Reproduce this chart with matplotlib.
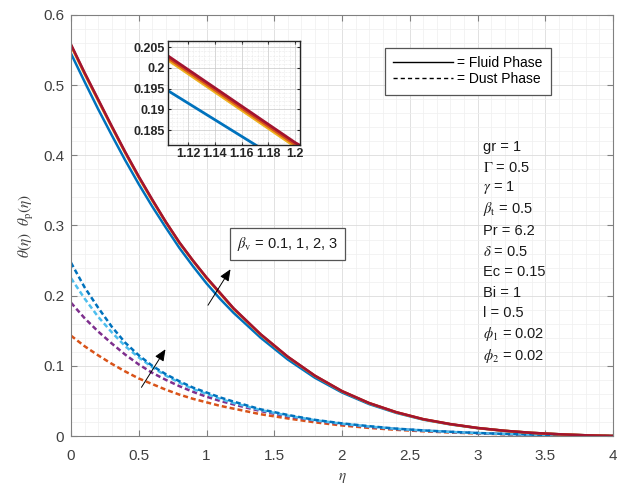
import matplotlib
matplotlib.use("Agg")
import matplotlib.pyplot as plt
from matplotlib.lines import Line2D
from matplotlib.ticker import MultipleLocator

plt.rcParams['font.family'] = ['Liberation Sans', 'DejaVu Sans']
plt.rcParams['mathtext.fontset'] = 'stix'

# ---------------- data ----------------
eta = [0, 0.1, 0.2, 0.3, 0.4, 0.5, 0.6, 0.7, 0.8, 0.9, 1.0, 1.1, 1.2, 1.4, 1.6, 1.8,
       2.0, 2.2, 2.4, 2.6, 2.8, 3.0, 3.2, 3.4, 3.6, 3.8, 4.0]
beta_v = ['0.1', '1', '2', '3']

# Fluid phase theta(eta)
fluid_b01 = [0.545, 0.505, 0.466, 0.429, 0.393, 0.359, 0.327, 0.297, 0.268, 0.242, 0.2175,
             0.1955, 0.1755, 0.140, 0.109, 0.083, 0.062, 0.0455, 0.033, 0.0233, 0.0165,
             0.0112, 0.0073, 0.0044, 0.0025, 0.001, 0.0]
fluid_b1 = [0.556, 0.516, 0.478, 0.4405, 0.4035, 0.3685, 0.3355, 0.3045, 0.275, 0.2495, 0.225,
            0.203, 0.181, 0.1443, 0.1125, 0.0856, 0.0637, 0.0468, 0.0338, 0.0238, 0.0168,
            0.0114, 0.0074, 0.0045, 0.0025, 0.001, 0.0]
fluid_b2 = [0.557, 0.517, 0.479, 0.441, 0.404, 0.369, 0.336, 0.305, 0.2755, 0.250, 0.2255,
            0.2035, 0.1815, 0.1447, 0.1128, 0.0858, 0.0639, 0.0469, 0.0339, 0.0239, 0.0169,
            0.0114, 0.0074, 0.0045, 0.0025, 0.001, 0.0]
fluid_b3 = [0.558, 0.518, 0.480, 0.442, 0.405, 0.370, 0.337, 0.305, 0.276, 0.250, 0.226,
            0.204, 0.182, 0.145, 0.113, 0.086, 0.064, 0.047, 0.034, 0.024, 0.017,
            0.0115, 0.0075, 0.0045, 0.0025, 0.001, 0.0]

# Dust phase theta_p(eta)
dust_b01 = [0.143, 0.128, 0.115, 0.103, 0.092, 0.082, 0.074, 0.066, 0.059, 0.053, 0.048,
            0.043, 0.039, 0.031, 0.025, 0.0195, 0.015, 0.0115, 0.0088, 0.0067, 0.005,
            0.0036, 0.0025, 0.0016, 0.001, 0.0004, 0.0]
dust_b1 = [0.190, 0.168, 0.149, 0.132, 0.116, 0.102, 0.090, 0.080, 0.071, 0.063, 0.056,
           0.050, 0.045, 0.0355, 0.028, 0.022, 0.017, 0.013, 0.010, 0.0076, 0.0057,
           0.0041, 0.0028, 0.0018, 0.0011, 0.0005, 0.0]
dust_b2 = [0.225, 0.196, 0.170, 0.148, 0.128, 0.112, 0.098, 0.086, 0.076, 0.067, 0.060,
           0.053, 0.047, 0.037, 0.029, 0.0225, 0.0175, 0.0135, 0.0102, 0.0078, 0.0058,
           0.0042, 0.0029, 0.0019, 0.0011, 0.0005, 0.0]
dust_b3 = [0.247, 0.212, 0.183, 0.156, 0.133, 0.115, 0.100, 0.088, 0.078, 0.069, 0.062,
           0.055, 0.049, 0.038, 0.030, 0.023, 0.018, 0.014, 0.0105, 0.008, 0.006,
           0.0043, 0.003, 0.002, 0.0012, 0.0005, 0.0]

fluid = [fluid_b01, fluid_b1, fluid_b2, fluid_b3]
dust = [dust_b01, dust_b1, dust_b2, dust_b3]
fluid_colors = ['#0072BD', '#EDB120', '#D95319', '#A2142F']
dust_colors = ['#D95319', '#7E2F8E', '#4DBEEE', '#0072BD']

x_ticks = [0, 0.5, 1, 1.5, 2, 2.5, 3, 3.5, 4]
x_ticklabels = ['0', '0.5', '1', '1.5', '2', '2.5', '3', '3.5', '4']
y_ticks = [0, 0.1, 0.2, 0.3, 0.4, 0.5, 0.6]
y_ticklabels = ['0', '0.1', '0.2', '0.3', '0.4', '0.5', '0.6']
ins_x_ticks = [1.12, 1.14, 1.16, 1.18, 1.2]
ins_x_ticklabels = ['1.12', '1.14', '1.16', '1.18', '1.2']
ins_y_ticks = [0.185, 0.19, 0.195, 0.2, 0.205]
ins_y_ticklabels = ['0.185', '0.19', '0.195', '0.2', '0.205']

params = ['gr = 1', r'$\Gamma$ = 0.5', r'$\gamma$ = 1', r'$\beta_{\rm t}$ = 0.5', 'Pr = 6.2',
          r'$\delta$ = 0.5', 'Ec = 0.15', 'Bi = 1', 'l = 0.5', r'$\phi_{\rm 1}$ = 0.02',
          r'$\phi_{\rm 2}$ = 0.02']

# ---------------- figure ----------------
W, H = 626, 488
fig = plt.figure(figsize=(W / 100, H / 100), dpi=100)
ax = fig.add_axes([71 / W, 1 - 436 / H, (613 - 71) / W, (436 - 15) / H])

tick_col = '#404040'

for y, c in zip(dust, dust_colors):
    ax.plot(eta, y, color=c, lw=1.8, ls=(0, (2.0, 1.2)))
for y, c in zip(fluid, fluid_colors):
    ax.plot(eta, y, color=c, lw=1.8)

ax.set_xlim(0, 4)
ax.set_ylim(0, 0.6)
ax.set_xticks(x_ticks)
ax.set_xticklabels(x_ticklabels)
ax.set_yticks(y_ticks)
ax.set_yticklabels(y_ticklabels)
ax.xaxis.set_minor_locator(MultipleLocator(0.1))
ax.yaxis.set_minor_locator(MultipleLocator(0.02))
ax.grid(True, which='major', color='#dcdcdc', linewidth=0.6)
ax.grid(True, which='minor', color='#efefef', linewidth=0.5)
ax.set_axisbelow(True)
for s in ax.spines.values():
    s.set_color('#808080')
    s.set_linewidth(0.8)
ax.tick_params(which='both', direction='in', colors='#808080', labelcolor=tick_col,
               labelsize=11, top=True, right=True)
ax.tick_params(which='major', length=4, pad=5)
ax.tick_params(axis='x', which='major', pad=9)
ax.tick_params(which='minor', length=0)
ax.set_xlabel(r'$\eta$', fontsize=11, color=tick_col, labelpad=6)
ax.set_ylabel(r'$\theta(\eta)\ \ \theta_{\rm p}(\eta)$', fontsize=11, color=tick_col, labelpad=5)

# legend
handles = [Line2D([], [], color='k', lw=1.0, ls='-'),
           Line2D([], [], color='k', lw=1.0, ls=(0, (3, 2.2)))]
leg = ax.legend(handles, ['= Fluid Phase', '= Dust Phase'], loc='upper left',
                bbox_to_anchor=((378 - 71) / 542, (436 - 41) / 421), fontsize=10,
                handlelength=4.3, handletextpad=0.3, labelspacing=0.15,
                borderpad=0.6, fancybox=False, framealpha=1, edgecolor='#555555')
leg.get_frame().set_linewidth(0.9)

# parameter list
ys = [147, 168, 188, 209, 231, 252, 272, 293, 313, 334, 356]
for t, yp in zip(params, ys):
    ax.text((483 - 71) / 542, (436 - yp) / 421, t, transform=ax.transAxes,
            fontsize=10.5, va='center', ha='left', color='#1a1a1a')

# beta_v box
ax.text(1.225, 0.2735, r'$\beta_{\rm v}$ = 0.1, 1, 2, 3', fontsize=10.5, va='center', ha='left',
        color='#1a1a1a',
        bbox=dict(boxstyle='square,pad=0.5', fc='white', ec='#555555', lw=0.9))

# arrows
ax.annotate('', xy=(1.188, 0.241), xytext=(1.0, 0.183),
            arrowprops=dict(arrowstyle='-|>,head_length=0.7,head_width=0.3', color='k', lw=0.7))
ax.annotate('', xy=(0.708, 0.127), xytext=(0.509, 0.066),
            arrowprops=dict(arrowstyle='-|>,head_length=0.7,head_width=0.3', color='k', lw=0.7))

# inset
ins = fig.add_axes([168 / W, 1 - 145 / H, (300 - 168) / W, (145 - 41) / H])
for y, c in zip(fluid, fluid_colors):
    ins.plot(eta, y, color=c, lw=2.0)
ins.set_xlim(1.105, 1.2037)
ins.set_ylim(0.1814, 0.2065)
ins.set_xticks(ins_x_ticks)
ins.set_xticklabels(ins_x_ticklabels)
ins.set_yticks(ins_y_ticks)
ins.set_yticklabels(ins_y_ticklabels)
ins.xaxis.set_minor_locator(MultipleLocator(0.004))
ins.yaxis.set_minor_locator(MultipleLocator(0.001))
ins.grid(True, which='major', color='#c8c8c8', linewidth=0.5)
ins.grid(True, which='minor', color='#d8d8d8', linewidth=0.4, linestyle=':')
ins.set_axisbelow(True)
for s in ins.spines.values():
    s.set_color('#262626')
    s.set_linewidth(1.0)
ins.tick_params(which='both', direction='in', labelsize=9, colors='#262626', top=True, right=True)
ins.tick_params(which='minor', length=0)
ins.tick_params(which='major', length=2, pad=2)
for lab in ins.get_xticklabels() + ins.get_yticklabels():
    lab.set_fontweight('bold')

fig.savefig('out.png', dpi=100)
